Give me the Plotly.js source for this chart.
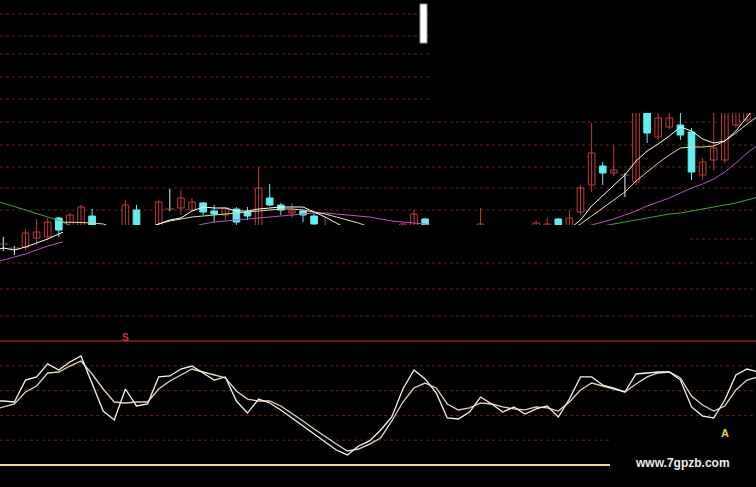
<!DOCTYPE html>
<html>
<head>
<meta charset="utf-8">
<script src="https://cdn.plot.ly/plotly-3.0.1.min.js"></script>
<style>
  html, body { margin: 0; padding: 0; background: #000; overflow: hidden; }
  #chart { width: 756px; height: 487px; }
</style>
</head>
<body>
<div id="chart"></div>
<script>
// ---- daily bars (null = bar not shown on screen) ----
const openP = [5.6, 5.2, 5.3, 6.2, 6.3, 8.2, 7.4, 7.4, 8.4, null, null, 7.2, 9.0, null, 7.4, 9.1, 9.2, 9.0, 9.7, 8.9,
  8.5, 9.1, 8.8, 7.4, 10.2, 9.5, 8.7, 8.9, 8.4, 6.8, null, null, null, null, null, null, 6.8, 7.2, 8.1, null,
  null, null, null, 6.8, null, null, null, null, 6.8, 6.8, 8.1, 7.2, 8.8, 11.5, 13.4, 12.7, 12.5, 11.8, 19.5, 16.3,
  17.3, 17.5, 16.8, 12.5, 14.0, 14.0, 17.5, 18.0];
const highP = [6.3, 5.4, 7.1, 8.1, 8.2, 8.3, 8.7, 9.5, 9.1, null, null, 10.0, 9.5, null, 10.0, 11.1, 11.0, 10.2, 9.8, 9.5,
  9.3, 9.3, 9.3, 13.3, 11.6, 9.7, 9.7, 9.0, 8.6, 8.3, null, null, null, null, null, null, 7.7, 9.0, 8.2, null,
  null, null, null, 9.2, null, null, null, null, 7.9, 8.2, 8.2, 9.0, 11.5, 17.7, 13.8, 15.5, 12.7, 20.5, 20.0, 19.2,
  19.0, 19.0, 17.2, 14.2, 19.0, 20.0, 20.0, 20.5];
const lowP = [4.9, 4.5, 5.0, 5.5, 6.0, 6.3, 7.2, 7.2, 7.1, null, null, 7.0, 7.3, null, 7.2, 8.9, 8.5, 8.8, 8.5, 7.7,
  8.0, 7.5, 8.0, 7.2, 9.4, 8.5, 8.2, 7.8, 7.4, 6.6, null, null, null, null, null, null, 6.5, 7.0, 7.2, null,
  null, null, null, 6.6, null, null, null, null, 6.6, 6.6, 7.1, 7.0, 8.5, 10.8, 11.5, 12.4, 10.3, 11.5, 15.7, 16.0,
  17.1, 16.0, 12.0, 12.0, 13.0, 13.7, 17.2, 17.8];
const closeP = [5.6, 5.2, 6.7, 6.8, 7.8, 7.0, 8.5, 9.3, 7.3, null, null, 9.5, 7.5, null, 9.8, 9.1, 10.2, 9.8, 8.8, 8.6,
  9.2, 7.8, 8.4, 11.2, 9.5, 9.0, 8.9, 8.5, 7.6, 7.4, null, null, null, null, null, null, 7.6, 8.6, 7.4, null,
  null, null, null, 7.6, null, null, null, null, 7.7, 7.6, 7.3, 8.2, 11.2, 14.7, 12.7, 13.0, 12.5, 19.5, 16.7, 18.2,
  18.2, 16.5, 12.8, 13.8, 15.2, 19.5, 19.5, 20.0];

// ---- moving averages, one value per bar from bar -1 to bar 68 ----
const ma5 = [4.9, 5.2, 5.0, 5.3, 5.7, 6.1, 6.6, 7.1,
  null, null, null, null, null, null,
  7.1, 7.6, 8.0, 8.2, 8.9, 9.3, 9.2, 9.2, 8.9, 8.9, 9.1, 9.2, 9.3, 9.3, 9.3, 8.8, 8.3, 7.7, 7.1,
  null, null, null, null, null, null, null, null, null, null, null, null, null, null, null, null, null, null, null,
  7.1, 8.0, 9.4, 10.4, 11.5, 12.5, 13.9, 14.9, 15.6, 16.4, 17.3, 16.9, 16.1, 15.7, 15.9, 16.9, 18.3, 19.7];
const ma10 = [null, null, null, null, null, null,
  7.8, 7.8, 7.75, 7.7, 7.6, 7.2,
  null, null,
  7.2, 7.6, 7.9, 8.1, 8.3, 8.4, 8.5, 8.6, 8.7, 8.8, 8.9, 9.0, 9.1, 9.1, 9.0, 8.8, 8.6, 8.3, 8.0, 7.7, 7.3, 6.9,
  null, null, null, null, null, null, null, null, null, null, null, null, null, null, null, null,
  7.0, 7.6, 8.4, 9.2, 10.0, 10.8, 11.9, 12.8, 13.7, 14.5, 15.2, 15.3, 15.3, 15.4, 15.9, 16.7, 17.6, 18.4];
const ma20 = [3.7, 4.0, 4.3, 4.6, 5.0, 5.4, 5.7, 6.0,
  null, null, null, null, null, null, null, null, null, null,
  7.3, 7.6, 7.8, 7.9, 8.0, 8.1, 8.2, 8.3, 8.4, 8.5, 8.6, 8.7, 8.7, 8.6, 8.5, 8.4, 8.3, 8.1, 7.9, 7.8, 7.7, 7.6, 7.3,
  null, null, null, null, null, null, null, null, null, null, null,
  7.0, 7.3, 7.5, 7.8, 8.1, 8.5, 8.9, 9.4, 9.8, 10.2, 10.7, 11.2, 11.6, 12.1, 12.8, 13.7, 14.7, 15.5];
const ma60 = [10.0, 9.7, 9.35, 9.0, 8.65, 8.3, 7.95, 7.5,
  null, null, null, null, null, null, null, null, null, null, null, null, null, null, null, null,
  null, null, null, null, null, null, null, null, null, null, null, null, null, null, null, null,
  null, null, null, null, null, null, null, null, null, null, null, null, null, null, null,
  7.4, 7.6, 7.8, 8.0, 8.2, 8.4, 8.6, 8.7, 8.9, 9.1, 9.3, 9.5, 9.7, 10.0, 10.3];

// ---- oscillator K / D, bar -1 to bar 68 ----
const kLine = [51.6, 51.6, 50.8, 68.5, 71.0, 81.5, 76.6, 83.1, 87.9, 66.1,
  43.5, 36.3, 61.3, 47.6, 49.2, 71.0, 71.8, 77.4, 79.8, 74.2,
  68.5, 71.0, 51.6, 41.9, 53.2, 50.0, 44.4, 37.9, 31.5, 25.0,
  18.5, 12.1, 8.1, 15.3, 19.4, 28.2, 38.7, 61.3, 76.6, 69.4,
  58.1, 37.9, 37.1, 42.7, 54.8, 49.2, 42.7, 46.8, 41.1, 45.2,
  47.6, 38.7, 53.2, 71.0, 71.0, 64.5, 62.1, 58.9, 73.4, 74.2,
  75.0, 75.0, 68.5, 46.8, 39.5, 37.9, 52.4, 72.6, 77.4, 75.0];
const dLine = [44.4, 46.8, 49.2, 58.9, 63.7, 74.2, 75.0, 79.8, 83.9, 73.4,
  61.3, 50.8, 50.0, 50.8, 50.8, 61.3, 67.7, 72.6, 77.4, 75.0,
  72.6, 70.2, 59.7, 53.2, 51.6, 51.6, 47.6, 41.9, 35.5, 29.0,
  22.6, 16.9, 11.3, 12.9, 16.9, 21.8, 35.5, 50.8, 62.1, 66.1,
  62.1, 49.2, 44.4, 46.0, 50.0, 49.2, 46.8, 45.2, 44.4, 46.8,
  46.0, 43.5, 50.8, 60.5, 66.1, 63.7, 61.3, 58.9, 65.3, 71.0,
  74.2, 75.0, 70.2, 55.6, 48.4, 43.5, 47.6, 60.5, 68.5, 71.0];

// ---- reference levels ----
const priceGrid = [28.6, 26.4, 24.6, 22.3, 20.1, 17.8, 15.5, 13.3, 11.2, 9.0];
const volGrid = [3.7, 1.1, -1.6];
const shortPriceGrid = [6.1];
const oscGridFull = [80, 60, 40];
const oscGridShort = [20];
const oscTop = 100, oscBase = 0;

// ---- signal marks ----
const sellMark = { bar: 11, level: 103, text: 'S' };
const buyMark = { bar: 65, level: 25.8, text: 'A' };
const siteText = 'www.7gpzb.com';

const W = 756, H = 487;
const px = v => v / W;          // pixel column -> paper x
const py = v => 1 - v / H;      // pixel row -> paper y

const UP = '#c23b3b', DOWN = '#5ef0f0', FLAT = '#e8f4e8';
const BODY_W = 0.6;

const lineX = kLine.map((_, j) => j - 1);
const bars = openP.map((o, i) => ({ i, o, h: highP[i], l: lowP[i], c: closeP[i] }))
  .filter(b => b.o !== null);
const kind = b => (b.c > b.o ? 'up' : (b.c < b.o ? 'down' : 'flat'));

// wick segments grouped by colour
function wicks(which, color) {
  const xs = [], ys = [];
  bars.filter(b => kind(b) === which).forEach(b => {
    xs.push(b.i, b.i, null);
    ys.push(b.l, b.h, null);
  });
  return { type: 'scatter', mode: 'lines', x: xs, y: ys, line: { color: color, width: 1 }, hoverinfo: 'skip' };
}
// candle bodies as floating bars
function bodies(which, color, fill) {
  const sel = bars.filter(b => kind(b) === which);
  return {
    type: 'bar', x: sel.map(b => b.i),
    base: sel.map(b => Math.min(b.o, b.c)),
    y: sel.map(b => Math.abs(b.c - b.o)),
    width: BODY_W,
    marker: { color: fill, line: { color: color, width: 1 } },
    hoverinfo: 'skip'
  };
}
const flatBars = bars.filter(b => kind(b) === 'flat');
const dojiTicks = {
  type: 'scatter', mode: 'markers', x: flatBars.map(b => b.i), y: flatBars.map(b => b.o),
  marker: { symbol: 'line-ew-open', size: 7, line: { color: FLAT, width: 1 } }, hoverinfo: 'skip'
};

const maLine = (y, color) => ({
  type: 'scatter', mode: 'lines', x: lineX, y: y,
  line: { color: color, width: 1 }, connectgaps: false, hoverinfo: 'skip'
});
const oscLine = (y, color) => ({
  type: 'scatter', mode: 'lines', x: lineX, y: y, yaxis: 'y2',
  line: { color: color, width: 1.3 }, hoverinfo: 'skip'
});

const traces = [
  wicks('up', UP), wicks('down', DOWN), wicks('flat', FLAT),
  bodies('up', UP, '#000000'), bodies('down', DOWN, DOWN), dojiTicks,
  maLine(ma60, '#3aa83a'),
  maLine(ma20, '#c24fc2'),
  maLine(ma10, '#e6dca0'),
  maLine(ma5, '#ffffff'),
  oscLine(dLine, '#ddd8b8'),
  oscLine(kLine, '#f4f4f4')
];

const dashRed = { color: '#6e1f1f', width: 1, dash: '3px,3px' };
const hline = (y, yref, x0, x1, line, layer) => ({
  type: 'line', xref: 'paper', x0: x0, x1: x1, yref: yref, y0: y, y1: y, line: line, layer: layer || 'below'
});
const blank = (x0, x1, y0, y1) => ({
  type: 'rect', xref: 'paper', yref: 'paper', x0: px(x0), x1: px(x1), y0: py(y1), y1: py(y0),
  fillcolor: '#000000', line: { width: 0 }, layer: 'above'
});

const shapes = [];
priceGrid.forEach(v => shapes.push(hline(v, 'y', 0, 1, dashRed)));
volGrid.forEach(v => shapes.push(hline(v, 'y', 0, 1, dashRed)));
oscGridFull.forEach(v => shapes.push(hline(v, 'y2', 0, 1, dashRed)));
oscGridShort.forEach(v => shapes.push(hline(v, 'y2', 0, px(610), dashRed)));
shapes.push(hline(oscTop, 'y2', 0, 1, { color: '#8e1e1e', width: 1.5 }));
shapes.push(hline(oscBase, 'y2', 0, px(610), { color: '#eedc84', width: 2.2 }));
// blacked-out panes
shapes.push(blank(63, W, 225, 258));
shapes.push(blank(430, W, 0, 113));
shapes.push(blank(610, W, 425, H));
shortPriceGrid.forEach(v => shapes.push(hline(v, 'y', px(690), 1, dashRed, 'above')));
// crosshair cursor block
shapes.push({
  type: 'rect', xref: 'paper', yref: 'paper', x0: px(420), x1: px(427), y0: py(43), y1: py(4),
  fillcolor: '#ffffff', line: { color: '#9a9a9a', width: 1 }, layer: 'above'
});

const font = 'Liberation Sans, Arial, sans-serif';
const annotations = [
  { x: sellMark.bar, y: sellMark.level, xref: 'x', yref: 'y2', xanchor: 'center', yanchor: 'middle',
    text: '<b>' + sellMark.text + '</b>', showarrow: false, font: { family: font, size: 10, color: '#d23232' } },
  { x: buyMark.bar, y: buyMark.level, xref: 'x', yref: 'y2', xanchor: 'center', yanchor: 'middle',
    text: '<b>' + buyMark.text + '</b>', showarrow: false, font: { family: font, size: 11, color: '#f2d41c' } },
  { x: px(682), y: py(463), xref: 'paper', yref: 'paper', xanchor: 'center', yanchor: 'middle',
    text: '<b>' + siteText + '</b>', showarrow: false, font: { family: font, size: 12, color: '#ececec' } }
];

const layout = {
  width: W, height: H,
  margin: { l: 0, r: 0, t: 0, b: 0, pad: 0 },
  paper_bgcolor: '#000000', plot_bgcolor: '#000000',
  showlegend: false, hovermode: false, barmode: 'overlay',
  xaxis: { range: [-0.297, 67.81], visible: false, fixedrange: true },
  yaxis: { range: [-18.7, 30], visible: false, fixedrange: true },
  yaxis2: { range: [-17.74, 375], overlaying: 'y', visible: false, fixedrange: true },
  shapes: shapes,
  annotations: annotations
};

Plotly.newPlot('chart', traces, layout, { staticPlot: true, displayModeBar: false });
</script>
</body>
</html>
